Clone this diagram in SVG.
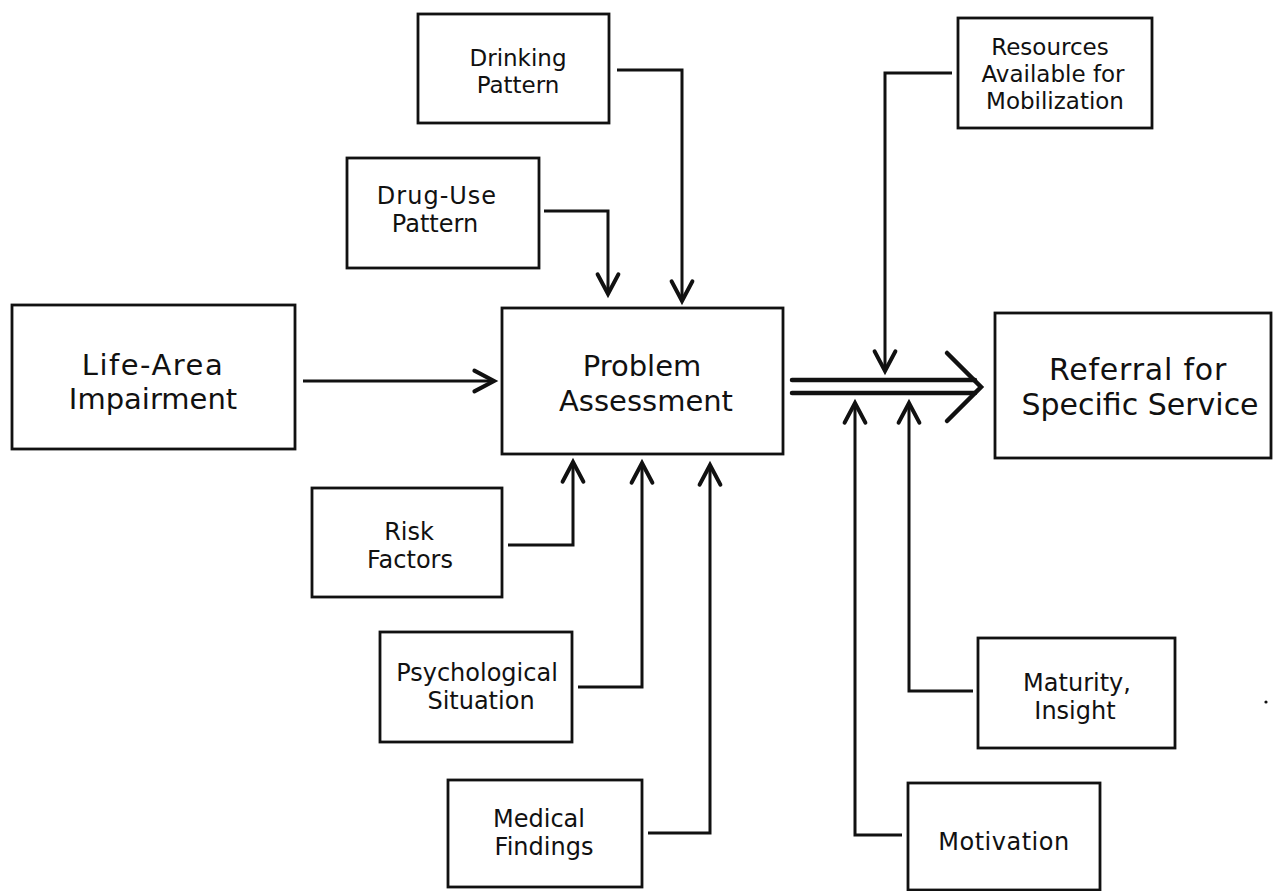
<svg xmlns="http://www.w3.org/2000/svg" width="1273" height="891" viewBox="0 0 1273 891">
<style>
.box{fill:#fff;stroke:#111;stroke-width:2.8}
.t{font-family:"DejaVu Sans","Liberation Sans",sans-serif;fill:#111;text-anchor:middle}
.s{font-size:24px}
.b{font-size:29px}
.c{fill:none;stroke:#111;stroke-width:3;stroke-linejoin:miter}
.d{fill:none;stroke:#111;stroke-width:4.5;stroke-linecap:round;stroke-linejoin:miter}
</style>
<defs>
<marker id="ah" markerUnits="userSpaceOnUse" markerWidth="30" markerHeight="30" viewBox="-22 -12 26 24" refX="0" refY="0" orient="auto">
<path d="M-17,-9 L0,0 L-17,9" fill="none" stroke="#111" stroke-width="3.5" stroke-linecap="round"/>
</marker>
</defs>
<rect x="0" y="0" width="1273" height="891" fill="#fff"/>
<g id="connectors">
<path class="c" d="M617,70 H682 V301" marker-end="url(#ah)"/>
<path class="c" d="M544,211 H608 V294" marker-end="url(#ah)"/>
<path class="c" d="M303,381 H494" marker-end="url(#ah)"/>
<path class="c" d="M508,545 H573 V462" marker-end="url(#ah)"/>
<path class="c" d="M578,687 H642 V463" marker-end="url(#ah)"/>
<path class="c" d="M648,833 H710 V465" marker-end="url(#ah)"/>
<path class="c" d="M952,73 H885 V371" marker-end="url(#ah)"/>
<path class="c" d="M973,691 H909 V403" marker-end="url(#ah)"/>
<path class="c" d="M902,835 H855 V403" marker-end="url(#ah)"/>
<path class="d" d="M792,380 H975 M792,393 H975"/>
<path class="d" d="M947,353 L981,387 L947,421"/>
</g>
<g id="drinking-pattern">
<rect class="box" x="418" y="14" width="191" height="109"/>
<text class="t" font-size="23" x="518" y="66">Drinking</text>
<text class="t" font-size="23" x="518" y="93">Pattern</text>
</g>
<g id="drug-use-pattern">
<rect class="box" x="347" y="158" width="192" height="110"/>
<text class="t s" x="437" y="204" letter-spacing="1">Drug-Use</text>
<text class="t s" x="435" y="232">Pattern</text>
</g>
<g id="life-area-impairment">
<rect class="box" x="12" y="305" width="283" height="144"/>
<text class="t b" x="153" y="375" letter-spacing="1.5">Life-Area</text>
<text class="t b" x="153" y="409">Impairment</text>
</g>
<g id="problem-assessment">
<rect class="box" x="502" y="308" width="281" height="146"/>
<text class="t b" x="642" y="376">Problem</text>
<text class="t b" x="646" y="411">Assessment</text>
</g>
<g id="referral">
<rect class="box" x="995" y="313" width="276" height="145"/>
<text class="t" font-size="30" x="1138" y="380" letter-spacing="0.8">Referral for</text>
<text class="t" font-size="30" x="1140" y="415">Specific Service</text>
</g>
<g id="resources">
<rect class="box" x="958" y="18" width="194" height="110"/>
<text class="t" font-size="23" x="1050" y="55">Resources</text>
<text class="t" font-size="23" x="1053" y="82">Available for</text>
<text class="t" font-size="23" x="1055" y="109">Mobilization</text>
</g>
<g id="risk-factors">
<rect class="box" x="312" y="488" width="190" height="109"/>
<text class="t s" x="409" y="540">Risk</text>
<text class="t s" x="410" y="568">Factors</text>
</g>
<g id="psychological-situation">
<rect class="box" x="380" y="632" width="192" height="110"/>
<text class="t s" x="477" y="681">Psychological</text>
<text class="t s" x="481" y="709">Situation</text>
</g>
<g id="medical-findings">
<rect class="box" x="448" y="780" width="194" height="107"/>
<text class="t s" x="539" y="827">Medical</text>
<text class="t s" x="544" y="855">Findings</text>
</g>
<g id="maturity-insight">
<rect class="box" x="978" y="638" width="197" height="110"/>
<text class="t s" x="1077" y="691">Maturity,</text>
<text class="t s" x="1075" y="719">Insight</text>
</g>
<g id="motivation">
<rect class="box" x="908" y="783" width="192" height="107"/>
<text class="t s" x="1004" y="850" letter-spacing="0.5">Motivation</text>
</g>
<circle cx="1266" cy="702" r="1.6" fill="#111"/>
</svg>
